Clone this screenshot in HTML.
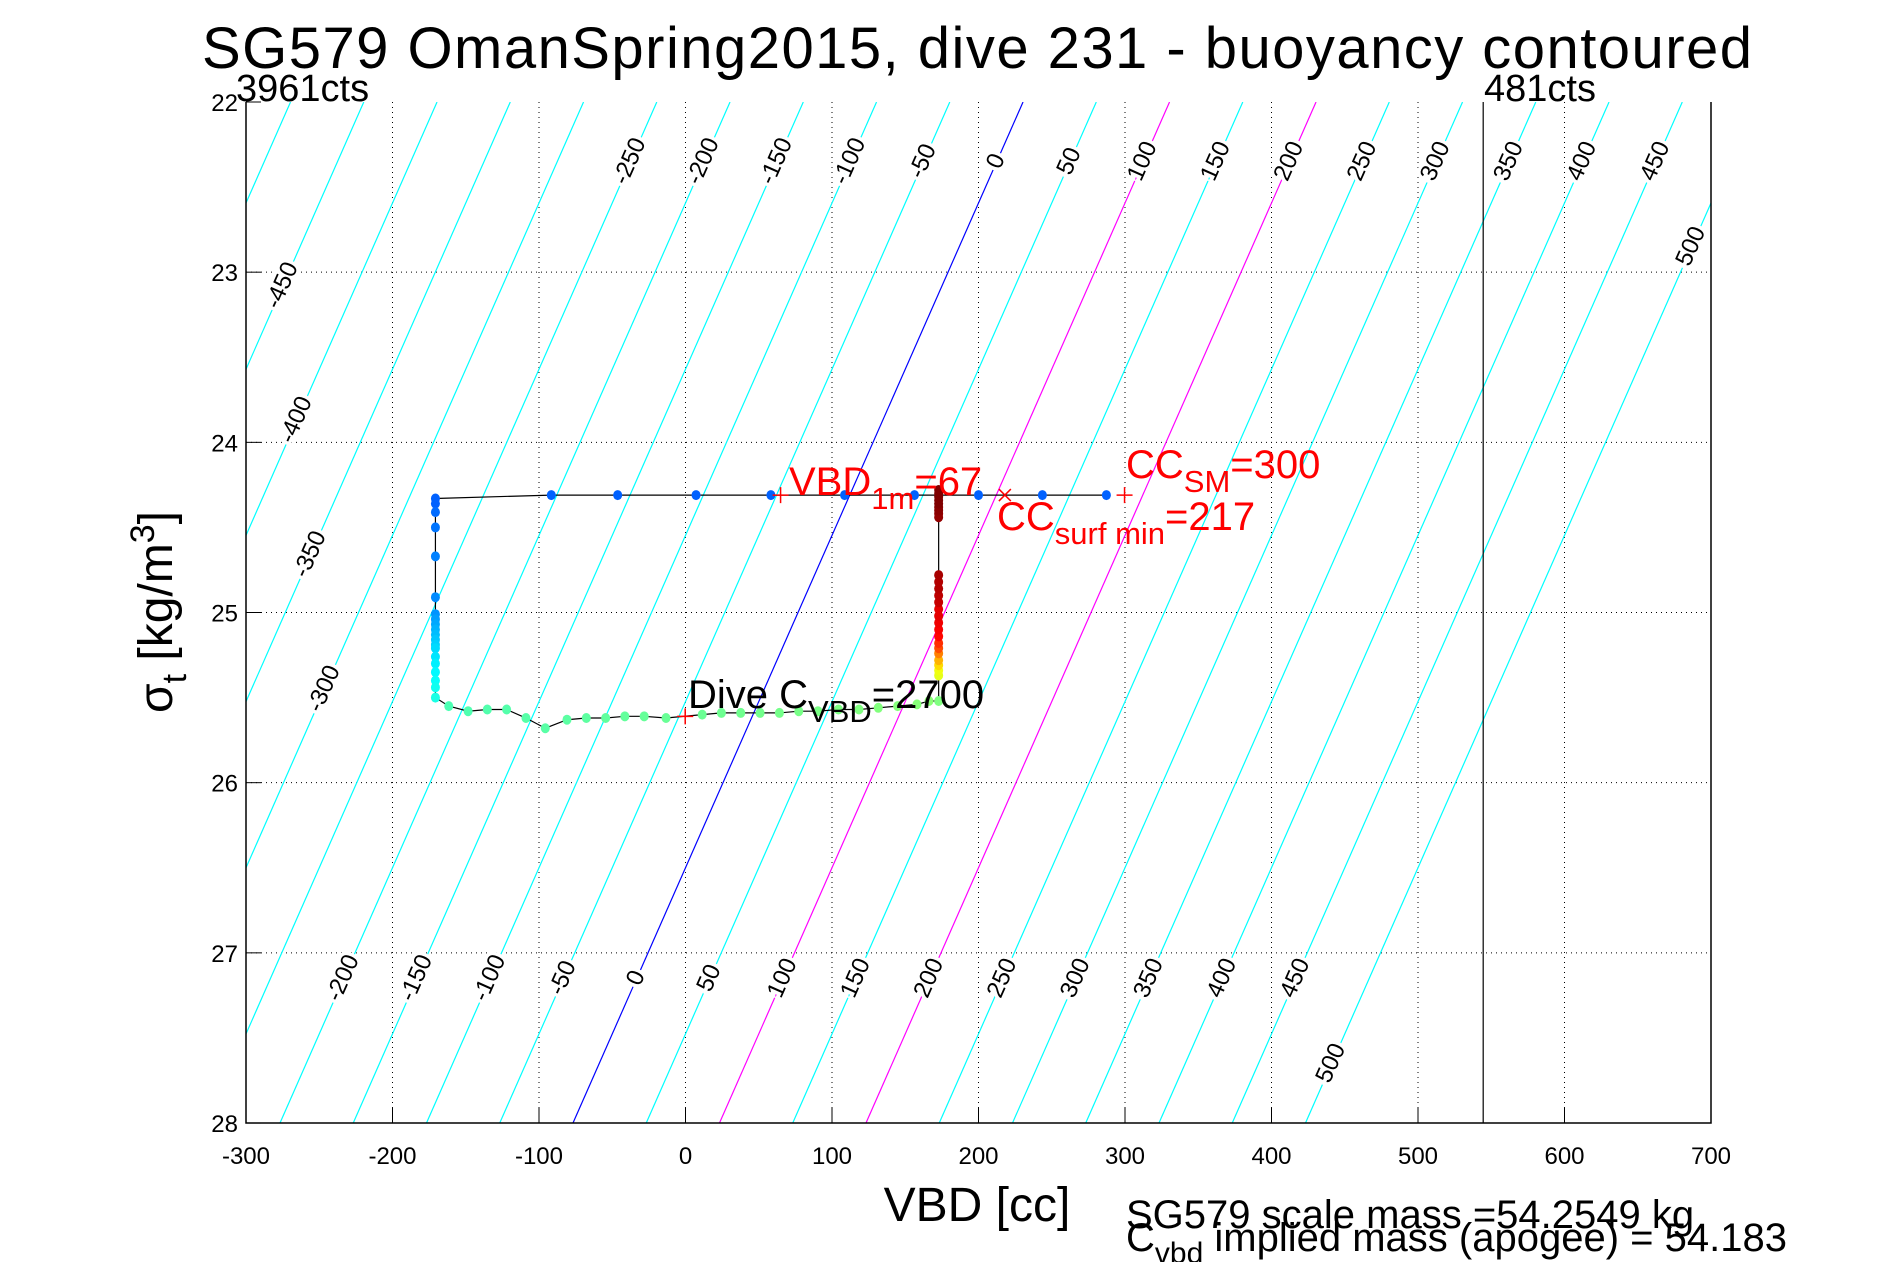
<!DOCTYPE html>
<html><head><meta charset="utf-8"><style>
html,body{margin:0;padding:0;background:#fff;}
svg{display:block;font-family:"Liberation Sans",Arial,sans-serif;}
</style></head><body>
<svg id="chart" width="1891" height="1262" viewBox="0 0 1891 1262" xmlns="http://www.w3.org/2000/svg">
<defs><clipPath id="pc"><rect x="246" y="102" width="1465" height="1021"/></clipPath></defs>
<rect x="0" y="0" width="1891" height="1262" fill="#fff"/>
<g id="grid"></g>
<g id="contours" clip-path="url(#pc)"></g>
<g id="clabels"></g>
<g id="track"></g>
<g id="axes"></g>
<text x="977" y="68" font-size="58" text-anchor="middle" textLength="1550">SG579 OmanSpring2015, dive 231 - buoyancy contoured</text>
<text x="236" y="101" font-size="38">3961cts</text>
<text x="1484" y="101" font-size="38">481cts</text>
<text x="977" y="1221" font-size="48" text-anchor="middle">VBD [cc]</text>
<text transform="translate(172,612) rotate(-90)" font-size="48" text-anchor="middle">σ<tspan font-size="34" dy="14">t</tspan><tspan dy="-14"> [kg/m</tspan><tspan font-size="34" dy="-18">3</tspan><tspan dy="18">]</tspan></text>
<text x="789" y="495" font-size="40" fill="#f00">VBD<tspan font-size="31" dy="14">1m</tspan><tspan dy="-14">=67</tspan></text>
<text x="1126" y="478" font-size="40" fill="#f00">CC<tspan font-size="31" dy="14">SM</tspan><tspan dy="-14">=300</tspan></text>
<text x="997" y="530" font-size="40" fill="#f00">CC<tspan font-size="31" dy="14">surf min</tspan><tspan dy="-14">=217</tspan></text>
<text x="688" y="708" font-size="40" fill="#000">Dive C<tspan font-size="31" dy="14">VBD</tspan><tspan dy="-14">=2700</tspan></text>
<text x="1126" y="1228" font-size="40">SG579 scale mass =54.2549 kg</text>
<text x="1126" y="1251" font-size="40">C<tspan font-size="30" dy="12">vbd</tspan><tspan dy="-12"> implied mass (apogee) = 54.183</tspan></text>
</svg>
<script>
const xTicks=[-300,-200,-100,0,100,200,300,400,500,600,700];
const yTicks=[22,23,24,25,26,27,28];
const contourLevels=[];for(let b=-500;b<=500;b+=50)contourLevels.push(b);
const topLabelLevels=[-250,-200,-150,-100,-50,0,50,100,150,200,250,300,350,400,450];
const bottomLabelLevels=[-200,-150,-100,-50,0,50,100,150,200,250,300,350,400,450];
const leftLabelLevels=[-450,-400,-350,-300];
const leftLabelSigma=[23.08,23.87,24.66,25.45];
const sideLabelLevels=[500,500];
const sideLabelSigma=[22.85,27.65];
const topX=[-170.7,-91.6,-46.3,7.2,58.3,108.6,156.3,200,243.6,287.3];
const topS=[24.33,24.31,24.31,24.31,24.31,24.31,24.31,24.31,24.31,24.31];
const leftS=[24.36,24.41,24.5,24.67,24.91,25.01,25.04,25.07,25.1,25.13,25.16,25.19,25.21,25.26,25.3,25.35,25.4,25.44,25.5];
const leftX=-170.7;
const botX=[-161.6,-148.4,-135.3,-122.1,-108.9,-95.7,-80.9,-67.7,-54.5,-41.4,-28.2,-13.3,11.4,24.5,37.7,50.9,64.1,77.3,90.4,104.4,118.4,131.6,144.8,158,166.2];
const botS=[25.55,25.58,25.57,25.57,25.62,25.68,25.63,25.62,25.62,25.61,25.61,25.62,25.6,25.59,25.59,25.59,25.59,25.58,25.58,25.57,25.57,25.56,25.55,25.54,25.52];
const rightX=172.8;
const rightS=[25.52,25.37,25.34,25.31,25.28,25.24,25.21,25.18,25.14,25.1,25.06,25.02,24.98,24.94,24.9,24.86,24.82,24.78,24.44,24.42,24.4,24.38,24.36,24.34,24.32,24.3,24.28];
const rightT=[0.5,0.6,0.61,0.66,0.7,0.75,0.8,0.83,0.87,0.88,0.89,0.9,0.9,0.93,0.94,0.95,0.95,0.96,0.98,0.98,0.99,0.99,1,1,1,1,1];
const markVbd1m=[64.9,24.31], markCvbd=[-0.2,25.61], markSurfMin=[218,24.31], markSM=[299.7,24.31];
const countsLineX=544.5;
const SVGNS="http://www.w3.org/2000/svg";
const X=v=>246+(v+300)*1.465, Y=s=>102+(s-22)*170.17;
const x0=s=>-76.8-51.2*(s-28);
function mk(tag,attrs,parent){const e=document.createElementNS(SVGNS,tag);for(const k in attrs)e.setAttribute(k,attrs[k]);parent.appendChild(e);return e;}
function jet(t){const c=v=>Math.round(255*Math.max(0,Math.min(1,v)));return `rgb(${c(1.5-Math.abs(4*t-3))},${c(1.5-Math.abs(4*t-2))},${c(1.5-Math.abs(4*t-1))})`;}
const grid=document.getElementById('grid'),cont=document.getElementById('contours'),cl=document.getElementById('clabels'),tr=document.getElementById('track'),ax=document.getElementById('axes');
xTicks.forEach(v=>{if(v>-300&&v<700){const l=mk('line',{x1:X(v),x2:X(v),y1:102,y2:1123,stroke:'#000','stroke-width':1,'stroke-dasharray':'1,4'},grid);

}});
yTicks.forEach(s=>{if(s>22&&s<28){const l=mk('line',{x1:246,x2:1711,y1:Y(s),y2:Y(s),stroke:'#000','stroke-width':1,'stroke-dasharray':'1,4'},grid);

}});
contourLevels.forEach(b=>{const col=b===0?'#00f':(b===100||b===200)?'#f0f':'#0ff';
const l=mk('line',{x1:X(b+x0(22)),y1:Y(22),x2:X(b+x0(28)),y2:Y(28),stroke:col,'stroke-width':1.2},cont);

});
function clabel(b,s){const t=mk('text',{transform:`translate(${X(b+x0(s))},${Y(s)}) rotate(-66)`,'font-size':24,'text-anchor':'middle','dominant-baseline':'middle',stroke:'#fff','stroke-width':7,'paint-order':'stroke'},cl);t.textContent=b;

}
topLabelLevels.forEach(b=>clabel(b,22.35));
bottomLabelLevels.forEach(b=>clabel(b,27.15));
leftLabelLevels.forEach((b,i)=>clabel(b,leftLabelSigma[i]));
sideLabelLevels.forEach((b,i)=>clabel(b,sideLabelSigma[i]));
const cl2=mk('line',{x1:X(countsLineX),x2:X(countsLineX),y1:102,y2:1123,stroke:'#000','stroke-width':1.2},ax);


const pts=[],cols=[];
topX.slice().reverse().forEach((x,i)=>{pts.push([x,topS[topX.length-1-i]]);cols.push(0.22);});
leftS.forEach((s,i)=>{pts.push([leftX,s]);cols.push(0.22+0.18*i/(leftS.length-1));});
botX.forEach((x,i)=>{pts.push([x,botS[i]]);cols.push(0.45+0.06*i/(botX.length-1));});
rightS.forEach((s,i)=>{pts.push([rightX,s]);cols.push(rightT[i]);});
const pl=mk('polyline',{points:pts.map(p=>X(p[0])+','+Y(p[1])).join(' '),fill:'none',stroke:'#000','stroke-width':1.2},tr);


pts.forEach((p,i)=>{const c=mk('ellipse',{cx:X(p[0]),cy:Y(p[1]),rx:4.5,ry:5,fill:jet(cols[i])},tr);

});
function plus(p,name){const g=mk('path',{d:`M${X(p[0])-8},${Y(p[1])}h16M${X(p[0])},${Y(p[1])-8}v16`,stroke:'#f00','stroke-width':1.5},tr);

}
plus(markVbd1m,'vbd-1m-marker');plus(markCvbd,'cvbd-marker');plus(markSM,'cc-sm-marker');
const xm=mk('path',{d:`M${X(markSurfMin[0])-6},${Y(markSurfMin[1])-6}l12,12M${X(markSurfMin[0])+6},${Y(markSurfMin[1])-6}l-12,12`,stroke:'#f00','stroke-width':1.5},tr);


const ab=mk('path',{d:'M246,102V1123H1711V102',fill:'none',stroke:'#000','stroke-width':1.5},ax);


xTicks.forEach(v=>{mk('line',{x1:X(v),x2:X(v),y1:1123,y2:1108,stroke:'#000'},ax);
const t=mk('text',{x:X(v),y:1164,'font-size':24,'text-anchor':'middle'},ax);t.textContent=v;

});
yTicks.forEach(s=>{mk('line',{x1:246,x2:261,y1:Y(s),y2:Y(s),stroke:'#000'},ax);
const t=mk('text',{x:238,y:Y(s)+9,'font-size':24,'text-anchor':'end'},ax);t.textContent=s;

});
</script>
</body></html>
